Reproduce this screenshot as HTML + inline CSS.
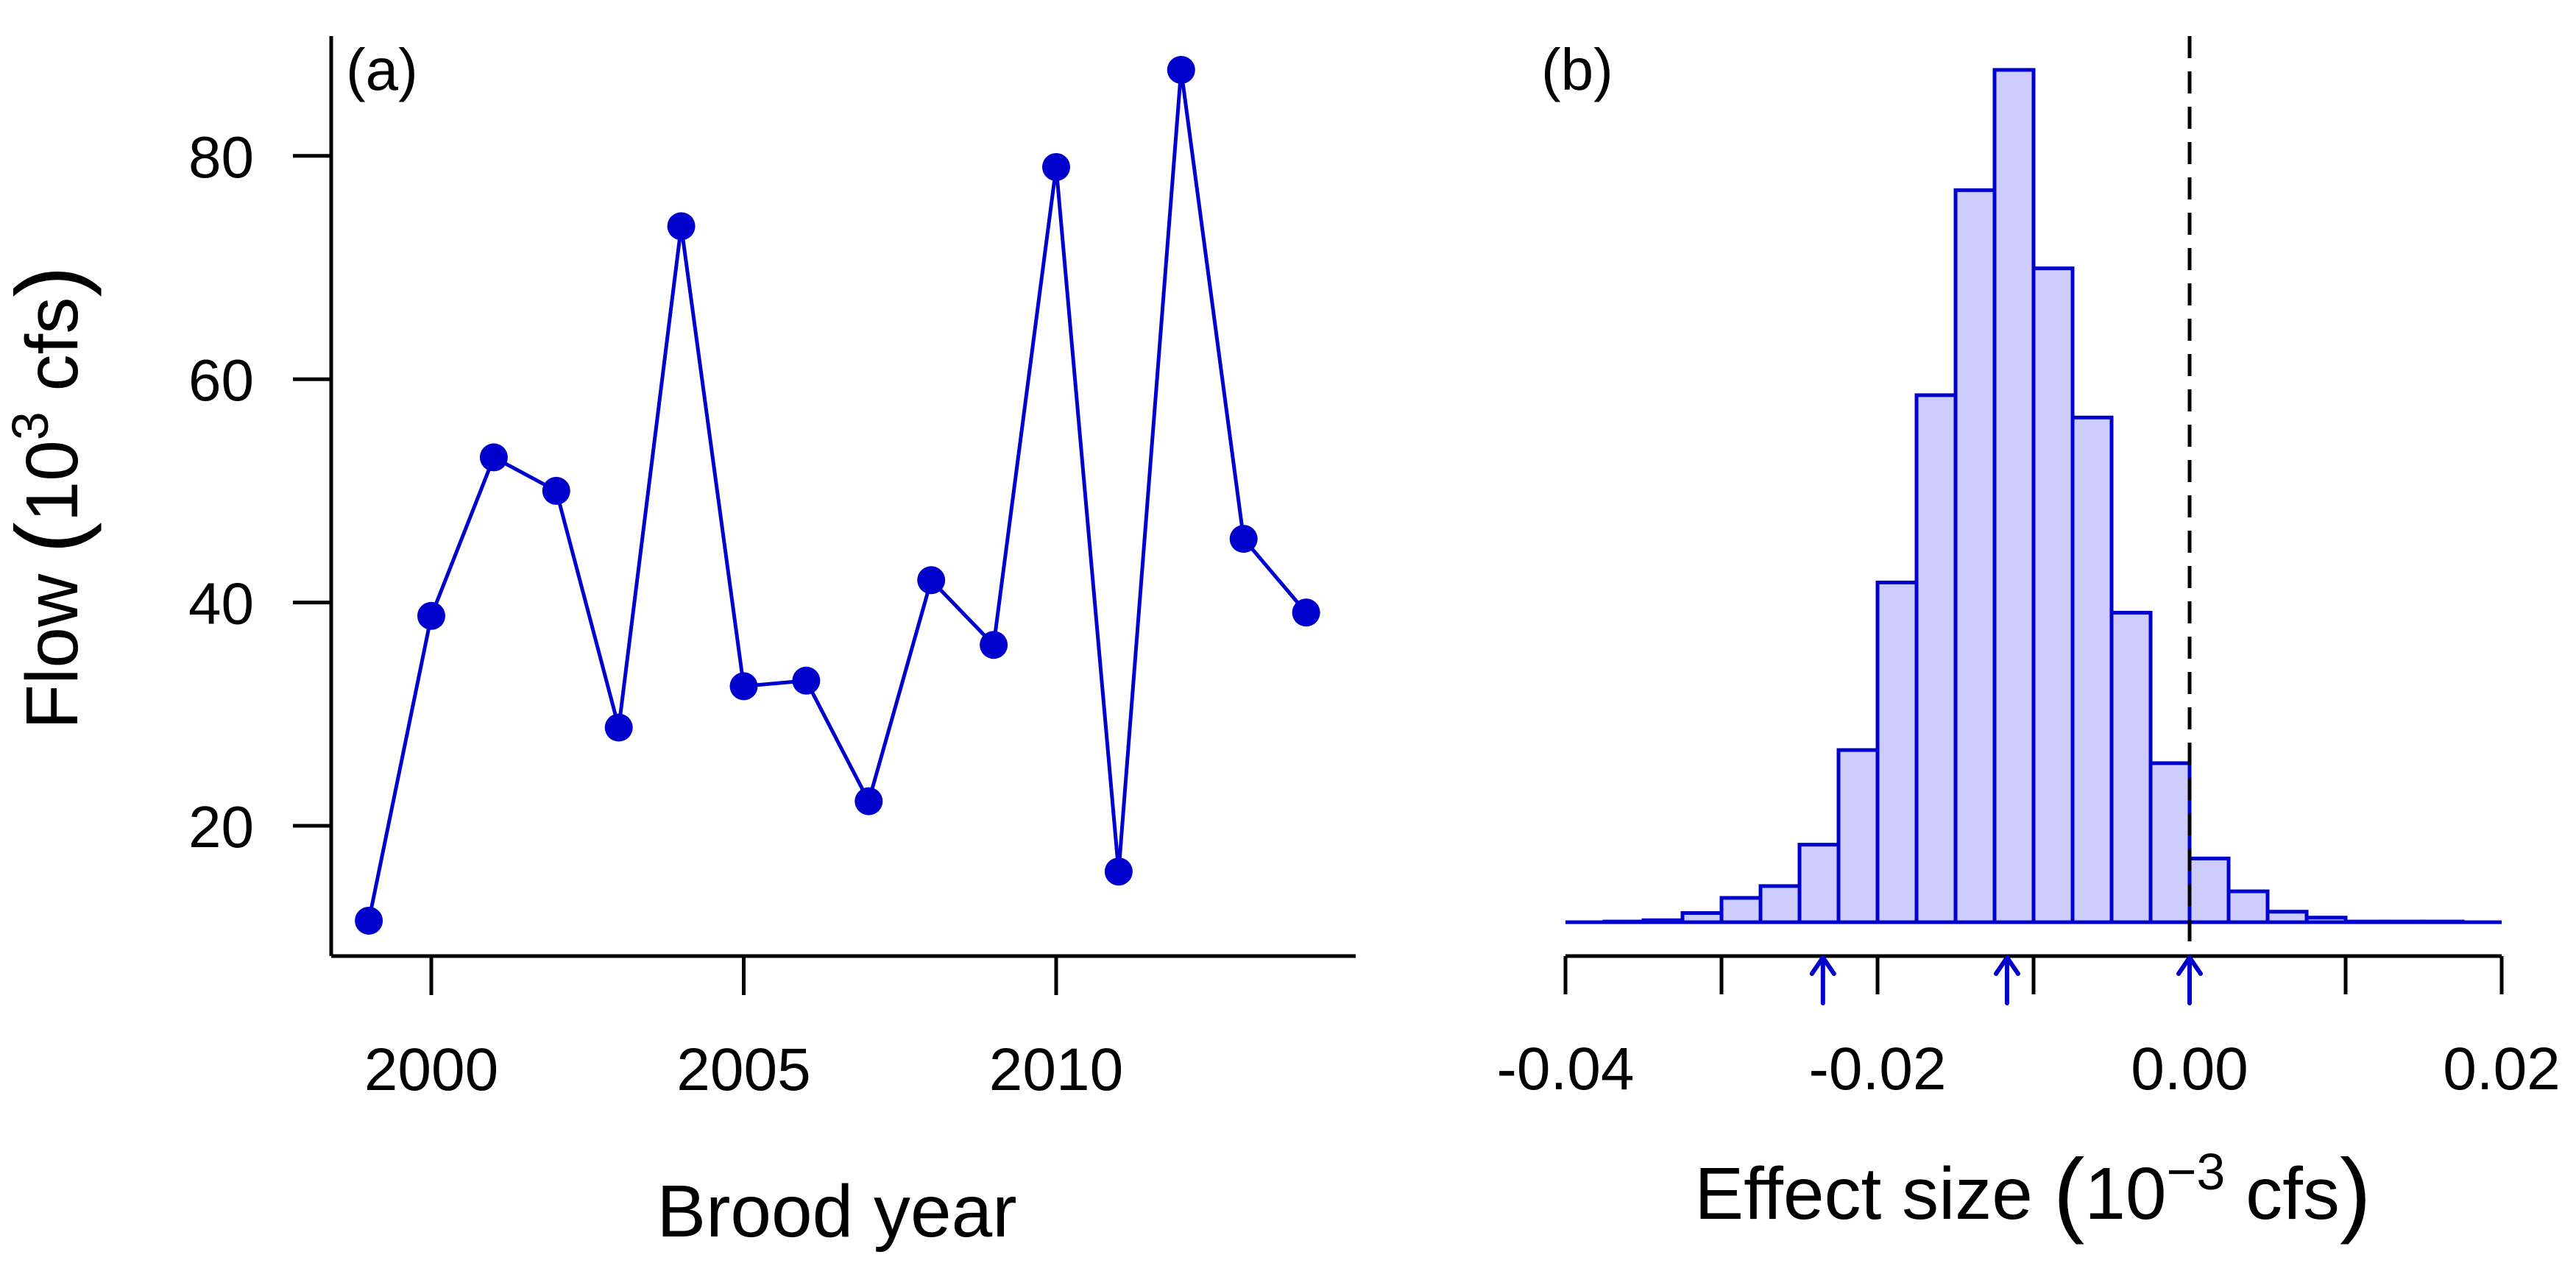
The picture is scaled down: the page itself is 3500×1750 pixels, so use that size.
<!DOCTYPE html>
<html><head><meta charset="utf-8"><style>
html,body{margin:0;padding:0;background:#fff;}
svg{display:block;font-family:"Liberation Sans",Arial,sans-serif;}
</style></head><body>
<svg id="chart" width="3500" height="1750" viewBox="0 0 3500 1750" xmlns="http://www.w3.org/2000/svg">
<rect width="3500" height="1750" fill="#fff"/>
<g id="pa"></g>
<g id="pb"></g>
<text x="470" y="122" font-size="80">(a)</text>
<text x="2094" y="122" font-size="80">(b)</text>
<text x="1137" y="1680" font-size="100" text-anchor="middle">Brood year</text>
<g transform="translate(105,676) rotate(-90)">
<text x="0" y="0" font-size="100" text-anchor="middle">Flow <tspan font-size="128" dy="6">(</tspan><tspan dy="-6">10</tspan><tspan font-size="70" dy="-40">3</tspan><tspan dy="40"> cfs</tspan><tspan font-size="128" dy="6">)</tspan></text>
</g>
<text x="2762" y="1656" font-size="100" text-anchor="middle">Effect size <tspan font-size="128" dy="8">(</tspan><tspan dy="-8">10</tspan><tspan font-size="70" dy="-40">−3</tspan><tspan dy="40"> cfs</tspan><tspan font-size="128" dy="8">)</tspan></text>
</svg>
<script>
const years=[1999,2000,2001,2002,2003,2004,2005,2006,2007,2008,2009,2010,2011,2012,2013,2014];
const flows=[11.5,38.8,53,50,28.8,73.7,32.5,33,22.2,42,36.2,79,15.9,87.7,45.7,39.1];
const yTicksA=[20,40,60,80];
const xTicksA=[2000,2005,2010];
const binStarts=[-0.04,-0.0375,-0.035,-0.0325,-0.03,-0.0275,-0.025,-0.0225,-0.02,-0.0175,-0.015,-0.0125,-0.01,-0.0075,-0.005,-0.0025,0,0.0025,0.005,0.0075,0.01,0.0125,0.015,0.0175];
const binCounts=[0,1,3,14,37,55,118,262,517,802,1114,1297,995,768,471,242,97,47,16,7,1,1,1,0];
const xTicksB=[-0.04,-0.03,-0.02,-0.01,0.01,0.02];
const xTickLabelsB=[-0.04,-0.02,0.00,0.02];
const arrowVals=[-0.0235,-0.0117,0];
const NS="http://www.w3.org/2000/svg";
function mk(tag,attrs,parent){const e=document.createElementNS(NS,tag);for(const k in attrs)e.setAttribute(k,attrs[k]);parent.appendChild(e);return e;}
const BLUE="#0000cc";
// panel a
const pa=document.getElementById('pa');
const xA=y=>586+(y-2000)*84.9;
const yA=v=>1122-(v-20)*15.17;
let e;
e=mk('line',{x1:450,y1:49,x2:450,y2:1299,stroke:'#000','stroke-width':5},pa);


e=mk('line',{x1:450,y1:1299,x2:1842,y2:1299,stroke:'#000','stroke-width':5},pa);


yTicksA.forEach(v=>{
 e=mk('line',{x1:398,x2:450,y1:yA(v),y2:yA(v),stroke:'#000','stroke-width':5},pa);
 
 
 e=mk('text',{x:345,y:yA(v)+29,'font-size':80,'text-anchor':'end'},pa);e.textContent=v;
 
 
});
xTicksA.forEach(v=>{
 e=mk('line',{x1:xA(v),x2:xA(v),y1:1299,y2:1352,stroke:'#000','stroke-width':5},pa);
 
 
 e=mk('text',{x:xA(v),y:1481,'font-size':82,'text-anchor':'middle'},pa);e.textContent=v;
 
 
});
e=mk('polyline',{points:years.map((y,i)=>xA(y)+','+yA(flows[i])).join(' '),fill:'none',stroke:BLUE,'stroke-width':5},pa);


years.forEach((y,i)=>{
 e=mk('circle',{cx:xA(y),cy:yA(flows[i]),r:19,fill:BLUE},pa);
 
 
});
// panel b
const pb=document.getElementById('pb');
const xB=v=>2975+v*21200;
const base=1253;
const hB=c=>c/1.12;
binStarts.forEach((s,i)=>{
 const h=hB(binCounts[i]);
 e=mk('rect',{x:xB(s),y:base-h,width:xB(s+0.0025)-xB(s),height:h,fill:'#ccccff',stroke:BLUE,'stroke-width':5},pb);
 
 
});
e=mk('line',{x1:xB(-0.04),x2:xB(0.02),y1:base,y2:base,stroke:BLUE,'stroke-width':5},pb);


e=mk('line',{x1:xB(-0.04),x2:xB(0.02),y1:1299,y2:1299,stroke:'#000','stroke-width':5},pb);


xTicksB.forEach(v=>{
 e=mk('line',{x1:xB(v),x2:xB(v),y1:1299,y2:1351,stroke:'#000','stroke-width':5},pb);
 
 
});
xTickLabelsB.forEach(v=>{
 e=mk('text',{x:xB(v),y:1480,'font-size':82,'text-anchor':'middle'},pb);e.textContent=v.toFixed(2);
 
 
});
e=mk('line',{x1:xB(0),x2:xB(0),y1:49,y2:1300,stroke:'#000','stroke-width':5,'stroke-dasharray':'30 18'},pb);


arrowVals.forEach(v=>{
 const x=xB(v);
 e=mk('path',{d:`M${x},1363 L${x},1301 M${x-15},1323 L${x},1301 L${x+15},1323`,fill:'none',stroke:BLUE,'stroke-width':6,'stroke-linecap':'round','stroke-linejoin':'round'},pb);
 
 
});
</script>
</body></html>
